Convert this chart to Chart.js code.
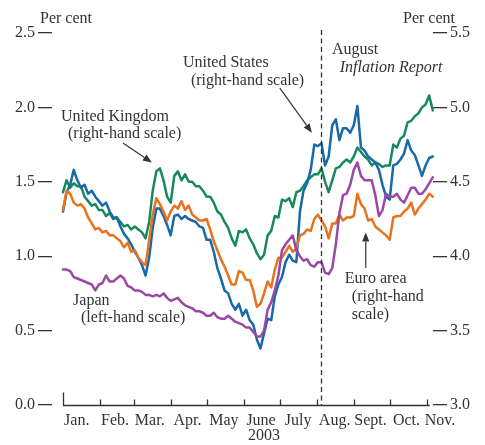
<!DOCTYPE html>
<html><head><meta charset="utf-8">
<script src="https://cdn.jsdelivr.net/npm/chart.js@4.4.1/dist/chart.umd.min.js"></script>
<style>html,body{margin:0;padding:0;background:#fff}#wrap{width:485px;height:445px;position:relative}</style>
</head><body><div id="wrap"><canvas id="c" width="485" height="445"></canvas></div>
<script>
// Day of 2003 (0 = 1 January)
const days = [0,3,6,9,12,15,18,21,24,27,30,33,36,39,42,45,48,51,54,57,60,63,66,69,72,75,78,81,84,87,90,93,96,99,102,105,108,111,114,117,120,123,126,129,132,135,138,141,144,147,150,153,156,159,162,165,168,171,174,177,180,183,186,189,192,195,198,201,204,207,210,213,216,219,222,225,228,231,234,237,240,243,246,249,252,255,258,261,264,267,270,273,276,279,282,285,288,291,294,297,300,303,306,309];

// United Kingdom (right-hand scale, per cent)
const ukRight = [4.43,4.51,4.46,4.49,4.47,4.47,4.40,4.37,4.34,4.35,
 4.31,4.31,4.27,4.29,4.25,4.26,4.23,4.20,4.21,4.18,
 4.20,4.18,4.16,4.12,4.23,4.44,4.57,4.59,4.51,4.40,
 4.36,4.54,4.57,4.51,4.55,4.50,4.50,4.47,4.47,4.44,
 4.40,4.40,4.36,4.30,4.28,4.23,4.19,4.12,4.07,4.17,
 4.16,4.18,4.12,4.08,4.02,3.98,4.01,4.14,4.17,4.27,
 4.26,4.38,4.37,4.39,4.33,4.43,4.44,4.47,4.51,4.53,
 4.55,4.55,4.59,4.50,4.43,4.51,4.59,4.60,4.63,4.65,
 4.63,4.67,4.73,4.70,4.67,4.65,4.61,4.63,4.62,4.60,
 4.61,4.61,4.75,4.73,4.79,4.81,4.90,4.91,4.94,4.96,
 5.00,5.02,5.08,4.98];

// United States (right-hand scale, per cent)
const usRight = [4.30,4.43,4.48,4.58,4.51,4.46,4.48,4.42,4.44,4.40,
 4.37,4.34,4.36,4.30,4.26,4.26,4.20,4.15,4.12,4.08,
 4.03,3.99,3.94,3.87,3.99,4.19,4.32,4.32,4.27,4.21,
 4.14,4.27,4.28,4.25,4.27,4.25,4.24,4.23,4.20,4.19,
 4.11,4.11,4.03,3.92,3.85,3.77,3.75,3.68,3.64,3.68,
 3.60,3.64,3.57,3.54,3.44,3.38,3.48,3.58,3.57,3.73,
 3.81,3.86,3.96,4.01,3.97,3.96,4.30,4.44,4.49,4.58,
 4.75,4.74,4.76,4.61,4.67,4.88,4.92,4.78,4.86,4.86,
 4.83,4.88,5.01,4.73,4.71,4.67,4.65,4.63,4.58,4.48,
 4.40,4.38,4.61,4.62,4.65,4.69,4.78,4.71,4.68,4.61,
 4.54,4.61,4.66,4.67];

// Euro area (right-hand scale, per cent)
const euroRight = [4.31,4.44,4.42,4.36,4.34,4.35,4.32,4.26,4.22,4.18,
 4.19,4.16,4.17,4.14,4.14,4.12,4.10,4.06,4.09,4.03,
 4.04,3.99,3.96,3.94,4.11,4.28,4.39,4.35,4.30,4.24,
 4.30,4.34,4.32,4.37,4.31,4.34,4.28,4.26,4.24,4.24,
 4.25,4.18,4.10,4.04,3.98,3.93,3.87,3.81,3.81,3.90,
 3.89,3.84,3.84,3.77,3.66,3.68,3.75,3.83,3.79,3.91,
 3.99,3.99,4.03,4.07,4.03,4.05,4.14,4.15,4.18,4.17,
 4.25,4.28,4.24,4.20,4.12,4.22,4.22,4.28,4.24,4.26,
 4.26,4.27,4.42,4.35,4.32,4.24,4.25,4.20,4.18,4.16,
 4.14,4.11,4.26,4.27,4.27,4.30,4.32,4.36,4.28,4.32,
 4.35,4.38,4.42,4.40];

// Japan (left-hand scale, per cent)
const japanLeft = [0.91,0.91,0.90,0.86,0.85,0.84,0.83,0.82,0.81,0.77,
 0.81,0.82,0.87,0.83,0.83,0.85,0.87,0.85,0.80,0.79,
 0.77,0.77,0.76,0.74,0.74,0.73,0.74,0.73,0.75,0.72,
 0.70,0.71,0.72,0.69,0.67,0.66,0.65,0.63,0.63,0.62,
 0.60,0.60,0.62,0.59,0.58,0.58,0.60,0.58,0.56,0.55,
 0.54,0.52,0.52,0.49,0.46,0.46,0.50,0.64,0.69,0.77,
 0.87,1.04,1.08,1.11,1.14,1.04,1.00,0.97,0.98,0.94,
 0.93,0.96,0.96,0.89,0.88,0.92,1.08,1.29,1.41,1.42,
 1.48,1.58,1.63,1.54,1.51,1.51,1.51,1.41,1.27,1.31,
 1.42,1.40,1.40,1.42,1.38,1.36,1.41,1.46,1.46,1.42,
 1.42,1.45,1.49,1.53];

const leftTicks = [0.0,0.5,1.0,1.5,2.0,2.5];
const rightTicks = [3.0,3.5,4.0,4.5,5.0,5.5];
const monthNames = ['Jan.','Feb.','Mar.','Apr.','May','June','July','Aug.','Sept.','Oct.','Nov.'];
const monthStartDays = [0,31,59,90,120,151,181,212,243,273,304];
const monthLabelDays = [11.5,43.5,72.5,104,134.5,165.5,196.5,227,257,287,315];
const yearLabel = '2003';
const reportDay = 216;

const INK = '#333333';
const FONT = '"Liberation Serif", "DejaVu Serif", serif';
const C_UK = '#17895c', C_US = '#1769a8', C_EA = '#e8731f', C_JP = '#9a48a8';

const pts = arr => days.map((d, i) => ({x: d, y: arr[i]}));

// annotations anchored in data units (day, left-scale value)
const labels = [
  {t:'United States', d:100.2, v:2.30},
  {t:'(right-hand scale)', d:106.9, v:2.18},
  {t:'United Kingdom', d:-1.7, v:1.94},
  {t:'(right-hand scale)', d:4.2, v:1.82},
  {t:'Japan', d:8.4, v:0.70},
  {t:'(left-hand scale)', d:15, v:0.585},
  {t:'Euro area', d:235.5, v:0.847},
  {t:'(right-hand', d:241.4, v:0.726},
  {t:'scale)', d:241.4, v:0.605},
  {t:'August', d:224.7, v:2.386},
  {t:'Inflation Report', d:231.3, v:2.265, italic:true}
];
const arrows = [
  {d0:181.2, v0:2.13, d1:208, v1:1.83},
  {d0:50.1, v0:1.76, d1:74.3, v1:1.63},
  {d0:253, v0:0.92, d1:253, v1:1.16}
];

const decor = {
  id: 'decor',
  afterDraw(chart) {
    const {ctx, chartArea: a, scales: {x, y}} = chart;
    ctx.save();
    ctx.strokeStyle = INK; ctx.fillStyle = INK; ctx.lineWidth = 1.3;
    const by = Math.round(a.bottom) + 0.5;
    // x axis line
    ctx.beginPath();
    ctx.moveTo(x.getPixelForValue(0), by);
    ctx.lineTo(x.getPixelForValue(306.5), by);
    ctx.stroke();
    // month tick marks (inward)
    monthStartDays.forEach((d, i) => {
      const px = Math.round(x.getPixelForValue(d)) + 0.5;
      ctx.beginPath();
      ctx.moveTo(px, by);
      ctx.lineTo(px, by - (i === 0 ? 13 : 6));
      ctx.stroke();
    });
    // Inflation Report dashed line
    const dx = Math.round(x.getPixelForValue(reportDay)) + 0.5;
    ctx.setLineDash([5, 3.5]);
    ctx.beginPath();
    ctx.moveTo(dx, a.top - 3);
    ctx.lineTo(dx, a.bottom);
    ctx.stroke();
    ctx.setLineDash([]);
    // arrows
    ctx.lineWidth = 1.2;
    arrows.forEach(ar => {
      const x0 = x.getPixelForValue(ar.d0), y0 = y.getPixelForValue(ar.v0);
      const x1 = x.getPixelForValue(ar.d1), y1 = y.getPixelForValue(ar.v1);
      const ang = Math.atan2(y1 - y0, x1 - x0);
      const L = 9, W = 3.6;
      const bx = x1 - L * Math.cos(ang), byy = y1 - L * Math.sin(ang);
      ctx.beginPath(); ctx.moveTo(x0, y0); ctx.lineTo(bx, byy); ctx.stroke();
      ctx.beginPath();
      ctx.moveTo(x1, y1);
      ctx.lineTo(bx + W * Math.sin(ang), byy - W * Math.cos(ang));
      ctx.lineTo(bx - W * Math.sin(ang), byy + W * Math.cos(ang));
      ctx.closePath(); ctx.fill();
    });
    // text annotations
    ctx.textBaseline = 'middle';
    ctx.textAlign = 'left';
    labels.forEach(l => {
      ctx.font = (l.italic ? 'italic ' : '') + '16px ' + FONT;
      ctx.fillText(l.t, x.getPixelForValue(l.d), y.getPixelForValue(l.v));
    });
    // axis unit labels
    ctx.font = '16px ' + FONT;
    ctx.fillText('Per cent', a.left - 12, a.top - 14);
    ctx.textAlign = 'right';
    ctx.fillText('Per cent', a.right + 22, a.top - 14);
    ctx.textAlign = 'center';
    ctx.fillText(yearLabel, x.getPixelForValue(168), a.bottom + 31);
    ctx.restore();
  }
};

const tickFont = {family: FONT, size: 16};
const yAxis = (pos, mn, mx, tks) => ({
  type: 'linear', position: pos, min: mn, max: mx,
  afterBuildTicks: s => { s.ticks = tks.map(v => ({value: v})); },
  afterFit: s => { s.width = 52; },
  ticks: {callback: v => Number(v).toFixed(1), color: INK, font: tickFont, padding: 3},
  grid: {drawOnChartArea: false, drawTicks: true, tickLength: 14, color: INK, lineWidth: 1.3},
  border: {display: false}
});

new Chart(document.getElementById('c'), {
  type: 'line',
  data: {
    datasets: [
      {label: 'United Kingdom', data: pts(ukRight), yAxisID: 'y2', borderColor: C_UK, order: 4},
      {label: 'United States', data: pts(usRight), yAxisID: 'y2', borderColor: C_US, order: 3},
      {label: 'Euro area', data: pts(euroRight), yAxisID: 'y2', borderColor: C_EA, order: 2},
      {label: 'Japan', data: pts(japanLeft), yAxisID: 'y', borderColor: C_JP, order: 1}
    ].map(ds => Object.assign(ds, {borderWidth: 2.5, pointRadius: 0, tension: 0, fill: false,
      borderJoinStyle: 'round', borderCapStyle: 'round', clip: 6}))
  },
  options: {
    responsive: false, animation: false,
    layout: {padding: {top: 33, left: 0, right: 0, bottom: 0}},
    plugins: {legend: {display: false}, tooltip: {enabled: false}},
    scales: {
      x: {
        type: 'linear', min: -9.19, max: 309.2,
        afterBuildTicks: s => { s.ticks = monthLabelDays.map(v => ({value: v})); },
        afterFit: s => { s.height = 40; },
        ticks: {callback: (v, i) => monthNames[i], autoSkip: false, maxRotation: 0, padding: 6,
          color: INK, font: tickFont},
        grid: {display: false, drawTicks: false},
        border: {display: false}
      },
      y: yAxis('left', 0, 2.5, leftTicks),
      y2: yAxis('right', 3, 5.5, rightTicks)
    }
  },
  plugins: [decor]
});
</script>
</body></html>
